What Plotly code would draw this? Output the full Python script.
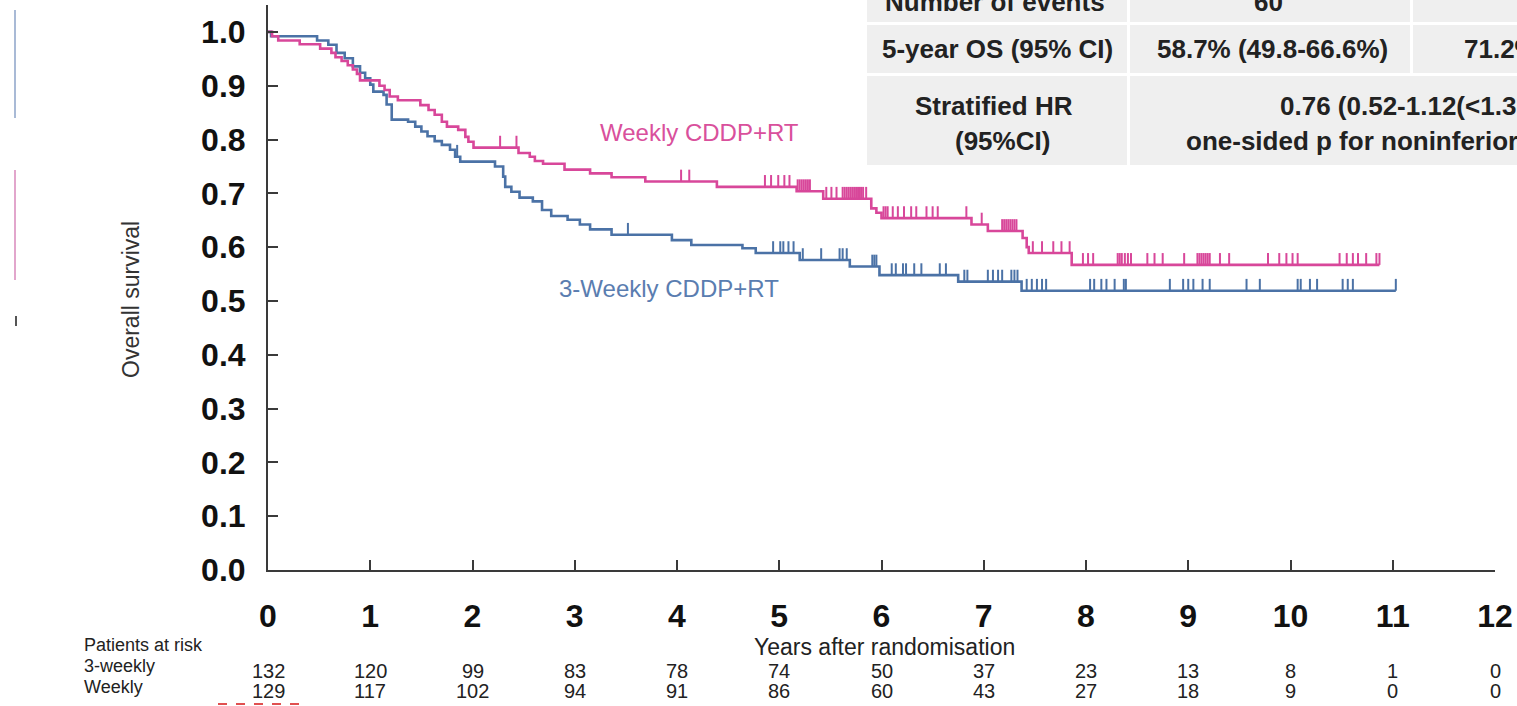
import numpy as np
import plotly.graph_objects as go

# Kaplan-Meier event steps: (time in years, survival after the step)
three_weekly_times = [0.03, 0.48, 0.59, 0.67, 0.75, 0.83, 0.90, 0.95, 1.00, 1.03, 1.13, 1.16, 1.21,
                      1.37, 1.44, 1.50, 1.56, 1.63, 1.70, 1.78, 1.83, 1.88, 2.22, 2.30, 2.32, 2.38,
                      2.46, 2.59, 2.68, 2.77, 2.93, 3.05, 3.15, 3.36, 3.95, 4.14, 4.64, 4.77, 5.20,
                      5.69, 5.98, 6.75, 7.37]
three_weekly_surv = [0.992, 0.984, 0.976, 0.961, 0.951, 0.936, 0.924, 0.914, 0.902, 0.889, 0.883,
                     0.865, 0.837, 0.833, 0.824, 0.815, 0.806, 0.797, 0.790, 0.781, 0.768, 0.759,
                     0.750, 0.731, 0.712, 0.703, 0.692, 0.685, 0.669, 0.658, 0.651, 0.642, 0.633,
                     0.623, 0.613, 0.604, 0.598, 0.589, 0.576, 0.564, 0.548, 0.536, 0.519]
three_weekly_censored = [1.85, 3.52, 4.94, 5.01, 5.04, 5.09, 5.14, 5.23, 5.41, 5.59, 5.62, 5.66,
                         5.91, 5.93, 5.95, 6.10, 6.14, 6.21, 6.24, 6.32, 6.39, 6.57, 6.63, 6.81,
                         6.84, 7.04, 7.09, 7.14, 7.18, 7.27, 7.30, 7.33, 7.42, 7.47, 7.52, 7.57,
                         7.61, 8.04, 8.08, 8.15, 8.20, 8.28, 8.37, 8.39, 8.82, 8.95, 9.00, 9.05,
                         9.14, 9.21, 9.57, 9.70, 10.07, 10.10, 10.19, 10.26, 10.51, 10.56, 10.61,
                         11.03]

weekly_times = [0.04, 0.10, 0.31, 0.51, 0.62, 0.66, 0.72, 0.78, 0.83, 0.87, 0.90, 1.09, 1.14,
                1.19, 1.27, 1.49, 1.57, 1.63, 1.70, 1.75, 1.86, 1.93, 1.96, 2.01, 2.45, 2.56,
                2.61, 2.69, 2.90, 3.15, 3.36, 3.69, 4.39, 5.17, 5.43, 5.90, 5.95, 6.00, 6.88,
                7.04, 7.38, 7.42, 7.44, 7.86]
weekly_surv = [0.992, 0.984, 0.977, 0.969, 0.961, 0.953, 0.946, 0.938, 0.930, 0.922, 0.910,
               0.900, 0.892, 0.880, 0.873, 0.864, 0.855, 0.846, 0.833, 0.824, 0.818, 0.805,
               0.796, 0.785, 0.775, 0.768, 0.760, 0.755, 0.744, 0.737, 0.730, 0.722, 0.712,
               0.704, 0.690, 0.672, 0.664, 0.654, 0.642, 0.630, 0.617, 0.600, 0.589, 0.567]
weekly_censored = [2.27, 2.43, 4.04, 4.12, 4.86, 4.92, 4.99, 5.05, 5.10, 5.18, 5.20, 5.22, 5.24,
                   5.26, 5.28, 5.30, 5.46, 5.51, 5.56, 5.62, 5.64, 5.66, 5.68, 5.70, 5.72, 5.74,
                   5.76, 5.78, 5.80, 5.82, 5.85, 6.02, 6.04, 6.06, 6.11, 6.16, 6.22, 6.29, 6.34,
                   6.44, 6.50, 6.55, 6.83, 6.98, 7.18, 7.20, 7.22, 7.24, 7.26, 7.28, 7.30, 7.32,
                   7.48, 7.57, 7.68, 7.76, 7.84, 7.97, 8.02, 8.07, 8.31, 8.33, 8.35, 8.38, 8.41,
                   8.44, 8.60, 8.67, 8.75, 8.96, 9.09, 9.11, 9.13, 9.15, 9.17, 9.19, 9.21, 9.31,
                   9.40, 9.78, 9.89, 9.96, 10.02, 10.07, 10.48, 10.55, 10.61, 10.66, 10.74,
                   10.84, 10.87]

# Numbers at risk
risk_years = list(range(0, 13))
risk_three_weekly = [132, 120, 99, 83, 78, 74, 50, 37, 23, 13, 8, 1, 0]
risk_weekly = [129, 117, 102, 94, 91, 86, 60, 43, 27, 18, 9, 0, 0]

y_ticks = [0.0, 0.1, 0.2, 0.3, 0.4, 0.5, 0.6, 0.7, 0.8, 0.9, 1.0]
x_ticks = list(range(0, 13))

PINK = "#d8479a"
BLUE = "#4b72a6"

W, H = 1517, 706
ML, MR, MT, MB = 268, 22, 5, 136
PW, PH = W - ML - MR, H - MT - MB


def px(x):
    return (x - ML) / PW


def py(y):
    return (H - MB - y) / PH


def km_path(times, surv, censored):
    t = [0.0] + list(times)
    s = [1.0] + list(surv)
    end = max(censored[-1], t[-1])
    t.append(end)
    s.append(s[-1])
    return t, s


def surv_at(times, surv, when):
    idx = np.searchsorted(np.asarray(times), np.asarray(when), side="right")
    full = np.concatenate([[1.0], surv])
    return full[idx]


def censor_ticks(times, surv, censored, height=0.022):
    sv = surv_at(times, surv, censored)
    xs, ys = [], []
    for c, v in zip(censored, sv):
        xs += [c, c, None]
        ys += [v, v + height, None]
    return xs, ys


fig = go.Figure()

for times, surv, cens, col in [
    (three_weekly_times, three_weekly_surv, three_weekly_censored, BLUE),
    (weekly_times, weekly_surv, weekly_censored, PINK),
]:
    t, s = km_path(times, surv, cens)
    fig.add_trace(go.Scatter(x=t, y=s, mode="lines", line=dict(color=col, width=2.6, shape="hv"),
                             hoverinfo="skip", showlegend=False))
    cx, cy = censor_ticks(times, surv, cens)
    fig.add_trace(go.Scatter(x=cx, y=cy, mode="lines", line=dict(color=col, width=2),
                             hoverinfo="skip", showlegend=False))

AXIS_COL = "#3a3a3a"
TICKFONT = dict(family="Liberation Sans", size=32, color="#111", weight="bold")
fig.update_xaxes(range=[0, 12], tickvals=x_ticks, ticktext=[str(v) for v in x_ticks],
                 showline=True, linecolor=AXIS_COL, linewidth=2, ticks="inside", ticklen=10,
                 tickwidth=2, tickcolor=AXIS_COL, showgrid=False, zeroline=False,
                 tickfont=TICKFONT, ticklabelstandoff=17)
fig.update_yaxes(range=[0, 1.05], tickvals=y_ticks, ticktext=[f"{v:.1f}" for v in y_ticks],
                 showline=True, linecolor=AXIS_COL, linewidth=2, ticks="inside", ticklen=10,
                 tickwidth=2, tickcolor=AXIS_COL, showgrid=False, zeroline=False,
                 tickfont=TICKFONT, ticklabelstandoff=14)

ann = []
NARROW = "Liberation Sans Narrow, Arial Narrow, Liberation Sans"


def label(text, x, y, font, xanchor="center", **kw):
    ann.append(dict(text=text, x=px(x), y=py(y), xref="paper", yref="paper", xanchor=xanchor,
                    yanchor="middle", showarrow=False, font=font, **kw))


label("Overall survival", 131, 300, dict(family=NARROW, size=23, color="#333"), textangle=-90)
label("Years after randomisation", 884, 647, dict(family=NARROW, size=23, color="#222"))

label("Weekly CDDP+RT", 699, 132, dict(family="Liberation Sans", size=24, color="#d9509c"))
label("3-Weekly CDDP+RT", 669, 288, dict(family="Liberation Sans", size=24, color="#5a7db0"))

# Numbers at risk table
RISK_FONT = dict(family=NARROW, size=20, color="#222")
for text, ypos in [("Patients at risk", 645), ("3-weekly", 666), ("Weekly", 687)]:
    label(text, 82, ypos, dict(family=NARROW, size=18, color="#222"), xanchor="left")
for yr, a, b in zip(risk_years, risk_three_weekly, risk_weekly):
    ann.append(dict(text=str(a), x=yr, y=py(671), xref="x", yref="paper", xanchor="center",
                    yanchor="middle", showarrow=False, font=RISK_FONT))
    ann.append(dict(text=str(b), x=yr, y=py(691), xref="x", yref="paper", xanchor="center",
                    yanchor="middle", showarrow=False, font=RISK_FONT))

# Summary table in the top-right corner
shapes = []
CELL = "#efefef"
cells = [
    (867, 1127, -20, 22), (1130, 1410, -20, 22), (1413, 1530, -20, 22),
    (867, 1127, 25, 73), (1130, 1410, 25, 73), (1413, 1530, 25, 73),
    (867, 1127, 76, 165), (1130, 1530, 76, 165),
]
for x0, x1, y0, y1 in cells:
    shapes.append(dict(type="rect", xref="paper", yref="paper", x0=px(x0), x1=px(x1),
                       y0=py(y1), y1=py(y0), fillcolor=CELL, line=dict(width=0), layer="below"))

TFONT = dict(family="Liberation Sans", size=26, color="#222", weight="bold")
table_text = [
    ("Number of events", 995, 2, "center"),
    ("60", 1268, 2, "center"),
    ("5-year OS (95% CI)", 997, 49, "center"),
    ("58.7% (49.8-66.6%)", 1272, 49, "center"),
    ("71.2%", 1462, 49, "left"),
    ("Stratified HR", 994, 106, "center"),
    ("(95%CI)", 1002, 141, "center"),
    ("0.76 (0.52-1.12(<1.3", 1278, 106, "left"),
    ("one-sided p for noninferior", 1184, 141, "left"),
]
for txt, x, y, anchor in table_text:
    label(txt, x, y, TFONT, xanchor=anchor)

# Slim coloured strips at the left edge and a dashed red mark under the risk table
shapes.append(dict(type="line", xref="paper", yref="paper", x0=px(15), x1=px(15), y0=py(118),
                   y1=py(10), line=dict(color="#a9bad6", width=2)))
shapes.append(dict(type="line", xref="paper", yref="paper", x0=px(15), x1=px(15), y0=py(280),
                   y1=py(170), line=dict(color="#e2a6cc", width=2)))
shapes.append(dict(type="line", xref="paper", yref="paper", x0=px(16), x1=px(16), y0=py(326),
                   y1=py(316), line=dict(color="#555555", width=2)))
shapes.append(dict(type="line", xref="paper", yref="paper", x0=px(218), x1=px(305), y0=py(704),
                   y1=py(704), line=dict(color="#e05050", width=2, dash="dash")))

fig.update_layout(width=W, height=H, margin=dict(l=ML, r=MR, t=MT, b=MB),
                  paper_bgcolor="white", plot_bgcolor="white", annotations=ann, shapes=shapes,
                  showlegend=False)

fig.write_html("out.html")
